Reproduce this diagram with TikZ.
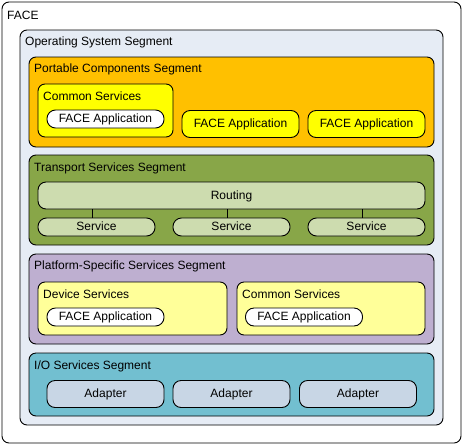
\documentclass[tikz,border=0pt]{standalone}
\usepackage{fontspec}
\setmainfont{Liberation Sans}
\usepackage{xcolor}
\usetikzlibrary{calc}
\usetikzlibrary{positioning}

\definecolor{osbg}{RGB}{230,236,245}
\definecolor{pcsbg}{RGB}{255,192,0}
\definecolor{appyel}{RGB}{255,255,0}
\definecolor{tssbg}{RGB}{136,166,72}
\definecolor{tsslight}{RGB}{205,220,175}
\definecolor{pssbg}{RGB}{190,175,208}
\definecolor{pssyel}{RGB}{255,255,153}
\definecolor{iosbg}{RGB}{114,191,208}
\definecolor{adapterbg}{RGB}{200,214,229}

\begin{document}
\begin{tikzpicture}[x=1pt,y=-1pt,
  font=\fontsize{12}{14}\selectfont,
  frame/.style={draw=black,line width=0.9pt,rounded corners=7pt},
  seglabel/.style={anchor=west,inner sep=1pt,yshift=-1pt},
  app/.style={draw=black,line width=0.9pt,fill=white,rounded corners=8.5pt,
    minimum width=117pt,minimum height=18pt,inner sep=0pt,
    text height=8.6pt,text depth=1pt},
  bigapp/.style={draw=black,line width=0.9pt,rounded corners=8pt,
    minimum width=117pt,minimum height=27pt,inner sep=0pt,
    text height=8.6pt,text depth=1pt}]
\useasboundingbox (0,0) rectangle (463,445);

\draw[frame,fill=white] (2,2) rectangle (461,443);
\node[seglabel] (face) at (6,14) {FACE};
\draw[frame,fill=osbg] (20,30) rectangle (443,425);
\node[seglabel] (os) at (24,41) {Operating System Segment};

% portable components
\draw[frame,fill=pcsbg] (29,57) rectangle (434,147);
\node[seglabel] (pcs) at (33,68) {Portable Components Segment};
\draw[frame,fill=appyel] (38,84) rectangle (173,137);
\node[seglabel] (pcscs) at (42,95) {Common Services};
\node[app] (pcsapp1) at (105.5,119) {FACE Application};
\node[bigapp,fill=appyel] (pcsapp2) at (240.5,124) {FACE Application};
\node[bigapp,fill=appyel] (pcsapp3) at (366.5,124) {FACE Application};

% transport services
\draw[frame,fill=tssbg] (29,155) rectangle (434,245);
\node[seglabel] (tss) at (33,167) {Transport Services Segment};
\node[bigapp,fill=tsslight,minimum width=387pt] (rt) at (231.5,195.5) {Routing};
\node[app,fill=tsslight] (sv1) at (96.5,227) {Service};
\node[app,fill=tsslight] (sv2) at (231.5,227) {Service};
\node[app,fill=tsslight] (sv3) at (366.5,227) {Service};
\foreach \s in {sv1,sv2,sv3}
  \draw[line width=0.9pt] ([xshift=-4pt]\s.north) -- ([xshift=-4pt]\s.north |- rt.south);

% platform-specific services
\draw[frame,fill=pssbg] (29,254) rectangle (434,344);
\node[seglabel] (pss) at (33,265) {Platform-Specific Services Segment};
\draw[frame,fill=pssyel] (38,282) rectangle (227,335);
\node[seglabel] (pssds) at (42,293) {Device Services};
\node[app] (pssapp1) at (105.5,317) {FACE Application};
\draw[frame,fill=pssyel] (237,282) rectangle (425,335);
\node[seglabel] (psscs) at (241,293) {Common Services};
\node[app] (pssapp2) at (304,317) {FACE Application};

% i/o services
\draw[frame,fill=iosbg] (29,353) rectangle (434,416);
\node[seglabel] (ios) at (33,365) {I/O Services Segment};
\node[bigapp,fill=adapterbg] (ad1) at (105.5,394) {Adapter};
\node[bigapp,fill=adapterbg] (ad2) at (231.5,394) {Adapter};
\node[bigapp,fill=adapterbg] (ad3) at (358,394) {Adapter};
\end{tikzpicture}
\end{document}
